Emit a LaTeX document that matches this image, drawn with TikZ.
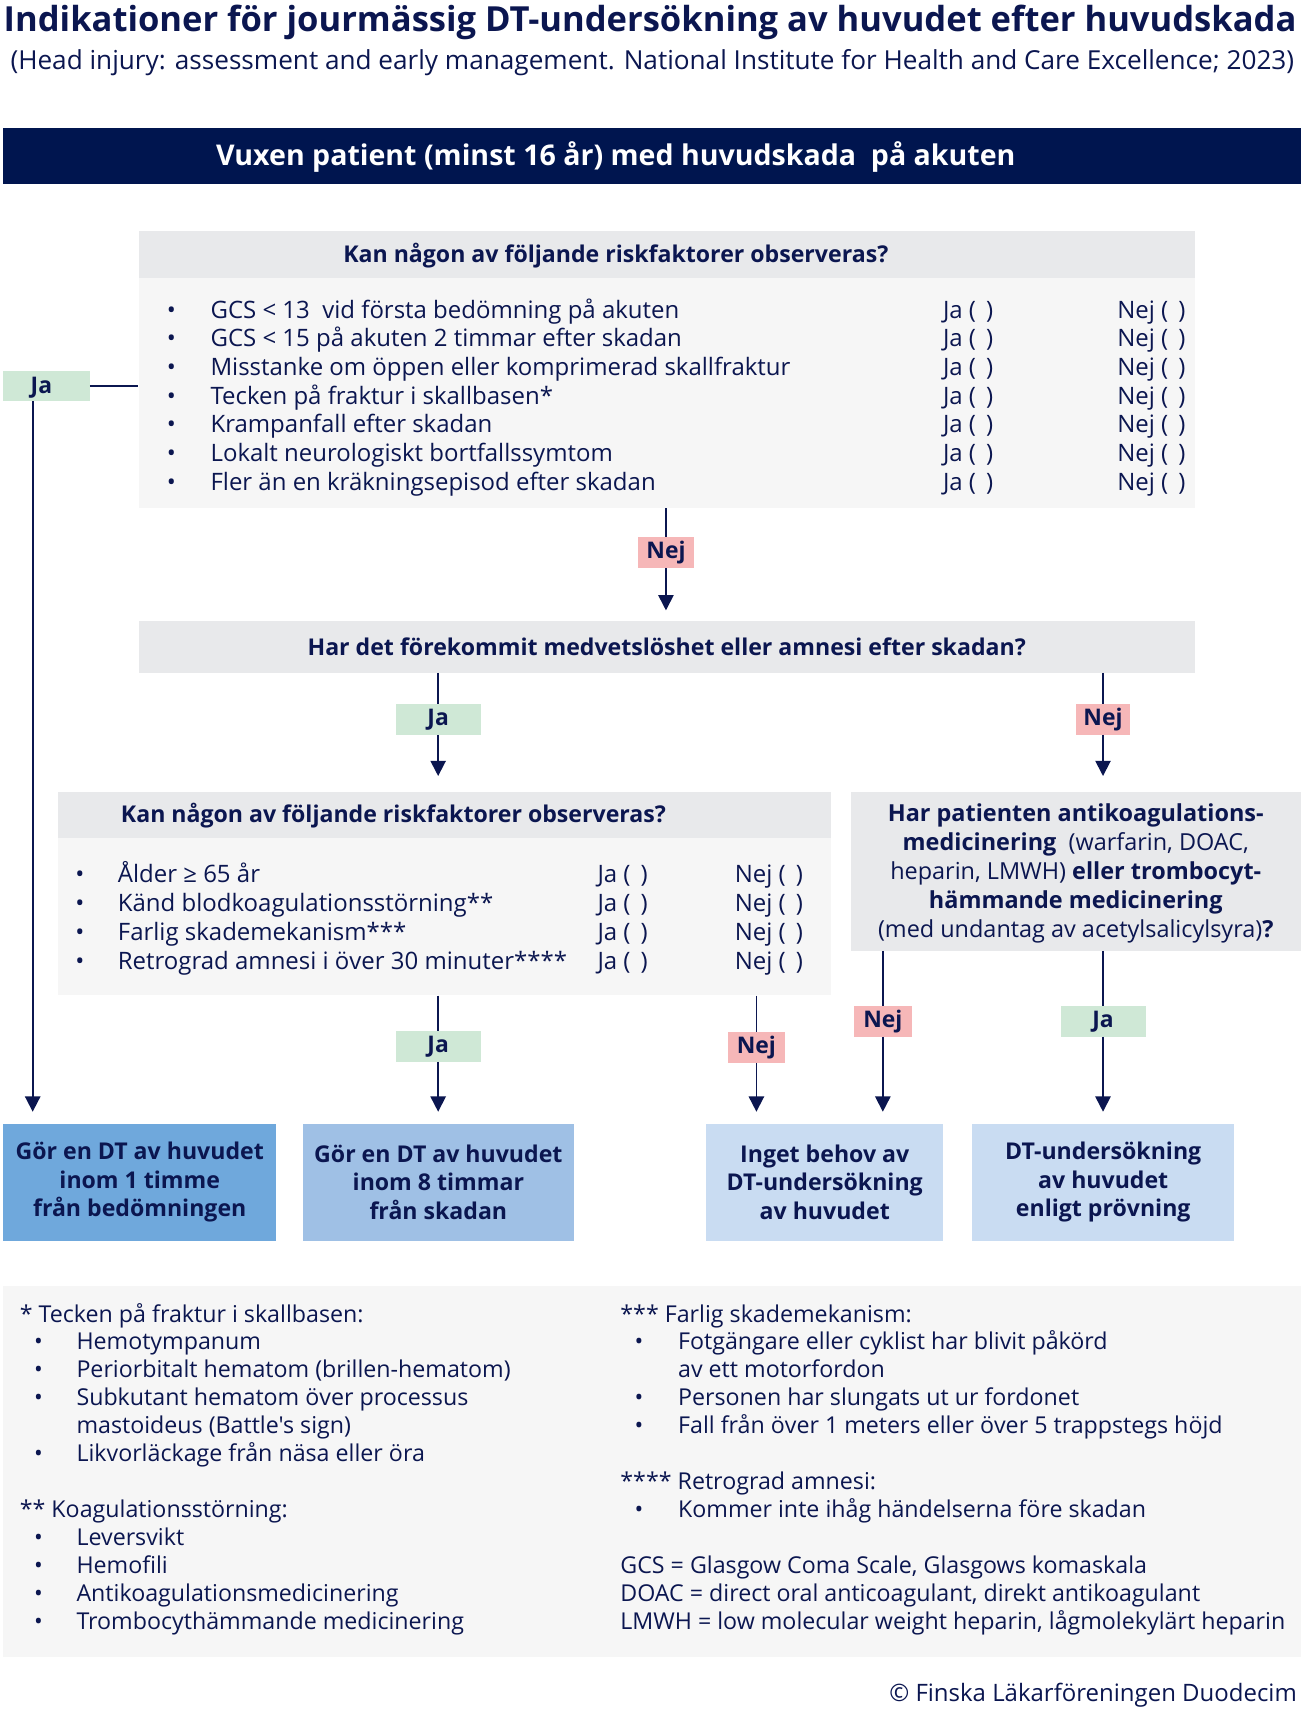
\documentclass[tikz,border=0pt]{standalone}
\usepackage{fontspec}
\setmainfont{Open Sans}[Ligatures=TeXOff]
\usetikzlibrary{arrows.meta}
\definecolor{navy}{HTML}{0B1650}
\definecolor{banner}{HTML}{00154F}
\definecolor{hdrgray}{HTML}{E8E9EB}
\definecolor{bodygray}{HTML}{F6F6F6}
\definecolor{jagreen}{HTML}{CFE8D6}
\definecolor{nejpink}{HTML}{F6B7B8}
\definecolor{outa}{HTML}{6FA8DC}
\definecolor{outb}{HTML}{9FC0E5}
\definecolor{outc}{HTML}{C9DCF2}
\newcommand{\bodyfont}{\fontsize{22}{26}\selectfont}
\newcommand{\fnfont}{\fontsize{21.3}{25}\selectfont}
\newcommand{\hdrfont}{\bfseries\fontsize{21.2}{25}\selectfont}
\newcommand{\jabox}{Ja (\hspace{0.42em})}
\newcommand{\nejbox}{Nej (\hspace{0.42em})}
\begin{document}
\begin{tikzpicture}[x=1pt,y=-1pt,
  line/.style={draw=navy, line width=1.6pt},
  arr/.style={line, -{Triangle[width=14pt,length=14pt]}},
  panel/.style={inner sep=0pt, anchor=north west},
  txt/.style={text=navy, inner sep=0pt, anchor=base west, font=\bodyfont},
  fnt/.style={text=navy, inner sep=0pt, anchor=base west, font=\fnfont},
  lab/.style={inner sep=0pt, minimum height=28pt, text=navy, font=\bfseries\fontsize{21}{24}\selectfont},
  jal/.style={lab, fill=jagreen, minimum width=78pt},
  nejl/.style={lab, fill=nejpink, minimum width=52pt},
  outbox/.style={panel, text=navy, align=center, minimum height=107pt, font=\bfseries\fontsize{21.2}{26}\selectfont}
]
\useasboundingbox[fill=white] (0,0) rectangle (1193,1568);

% title
\node[text=navy, inner sep=0pt, anchor=base, font=\bfseries\fontsize{31.7}{36}\selectfont] (title) at (596.5,29) {Indikationer för jourmässig DT-undersökning av huvudet efter huvudskada};
\node[text=navy, inner sep=0pt, anchor=base, font=\fontsize{24}{28}\selectfont] (subtitle) at (598.5,64) {(Head injury: assessment and early management. National Institute for Health and Care Excellence; 2023)};

% banner
\node[panel, fill=banner, minimum width=1190pt, minimum height=52pt] (banner) at (3,117) {};
\node[text=white, inner sep=0pt, anchor=base, font=\bfseries\fontsize{26.2}{30}\selectfont] (bannertxt) at (565,152) {Vuxen patient (minst 16 år) med huvudskada\ \ på akuten};

% box A
\node[panel, fill=hdrgray, minimum width=969pt, minimum height=43pt] (ahdr) at (127,212) {};
\node[panel, fill=bodygray, minimum width=969pt, minimum height=211pt] (abody) at (127,255) {};
\node[text=navy, inner sep=0pt, anchor=base, font=\hdrfont] (ahdrtxt) at (565,241) {Kan någon av följande riskfaktorer observeras?};
\foreach \t [count=\i] in {GCS < 13\ \ vid första bedömning på akuten, GCS < 15 på akuten 2 timmar efter skadan, Misstanke om öppen eller komprimerad skallfraktur, Tecken på fraktur i skallbasen*, Krampanfall efter skadan, Lokalt neurologiskt bortfallssymtom, Fler än en kräkningsepisod efter skadan}{
  \node[txt] (ab\i) at (153,{292+(\i-1)*26.3}) {•};
  \node[txt] (at\i) at (193,{292+(\i-1)*26.3}) {\t};
  \node[txt] (aj\i) at (865,{292+(\i-1)*26.3}) {\jabox};
  \node[txt] (an\i) at (1025,{292+(\i-1)*26.3}) {\nejbox};
}

% left Ja
\node[panel, fill=jagreen, minimum width=79pt, minimum height=28pt] (jaL) at (3,340) {};
\node[txt, anchor=base, font=\bfseries\fontsize{21}{24}\selectfont] (jaLt) at (38,361) {Ja};
\coordinate (jaLx) at (30,368);

% Nej below A
\node[nejl] (nejA) at (611,507) {Nej};

% box B
\node[panel, fill=hdrgray, minimum width=969pt, minimum height=47pt, text=navy, font=\hdrfont] (bq) at (127,570) {Har det förekommit medvetslöshet eller amnesi efter skadan?};

\node[jal] (jaB) at (402,660) {Ja};
\node[nejl, minimum width=50pt] (nejB) at (1012,660) {Nej};

% box C
\node[panel, fill=hdrgray, minimum width=709pt, minimum height=43pt] (chdr) at (53,726) {};
\node[panel, fill=bodygray, minimum width=709pt, minimum height=144pt] (cbody) at (53,769) {};
\node[text=navy, inner sep=0pt, anchor=base, font=\hdrfont] (chdrtxt) at (361,755) {Kan någon av följande riskfaktorer observeras?};
\foreach \t [count=\i] in {Ålder ≥ 65 år, Känd blodkoagulationsstörning**, Farlig skademekanism***, Retrograd amnesi i över 30 minuter****}{
  \node[txt] (cb\i) at (69,{810+(\i-1)*26.4}) {•};
  \node[txt] (ct\i) at (108,{810+(\i-1)*26.4}) {\t};
  \node[txt] (cj\i) at (548,{810+(\i-1)*26.4}) {\jabox};
  \node[txt] (cn\i) at (674,{810+(\i-1)*26.4}) {\nejbox};
}

% box D
\node[panel, fill=hdrgray, minimum width=412pt, minimum height=146pt] (dq) at (781,726) {};
\node[text=navy, inner sep=0pt, align=center, font=\fontsize{21.5}{26.5}\selectfont] (dqtxt) at (987,801.5) {{\bfseries Har patienten antikoagulations-}\\{\bfseries medicinering}\ \ (warfarin, DOAC,\\heparin, LMWH) {\bfseries eller trombocyt-}\\{\bfseries hämmande medicinering}\\(med undantag av acetylsalicylsyra){\bfseries ?}};

\node[jal] (jaC) at (402,960) {Ja};
\node[nejl] (nejC) at (694,961) {Nej};
\node[nejl, minimum width=53pt] (nejD) at (810,937) {Nej};
\node[jal] (jaD) at (1012,937) {Ja};

% outcome boxes
\node[outbox, fill=outa, minimum width=250pt] (o1) at (3,1031) {Gör en DT av huvudet\\inom 1 timme\\från bedömningen};
\node[outbox, fill=outb, minimum width=248pt] (o2) at (278,1031) {Gör en DT av huvudet\\inom 8 timmar\\från skadan};
\node[outbox, fill=outc, minimum width=217pt] (o3) at (648,1031) {Inget behov av\\DT-undersökning\\av huvudet};
\node[outbox, fill=outc, minimum width=240pt] (o4) at (892,1031) {DT-undersökning\\av huvudet\\enligt prövning};

% connectors
\draw[line] (jaL.east) -- (abody.west |- jaL.east);
\draw[arr, shorten >=11pt] (jaLx) -- (jaLx |- o1.north);
\draw[line] (abody.south -| nejA) -- (nejA.north);
\draw[arr, shorten >=10pt] (nejA.south) -- (bq.north -| nejA);
\draw[line] (bq.south -| jaB) -- (jaB.north);
\draw[arr, shorten >=14pt] (jaB.south) -- (chdr.north -| jaB);
\draw[line] (bq.south -| nejB) -- (nejB.north);
\draw[arr, shorten >=14pt] (nejB.south) -- (dq.north -| nejB);
\draw[line] (cbody.south -| jaC) -- (jaC.north);
\draw[arr, shorten >=11pt] (jaC.south) -- (o2.north -| jaC);
\draw[line] (cbody.south -| nejC) -- (nejC.north);
\draw[arr, shorten >=11pt] (nejC.south) -- (o3.north -| nejC);
\draw[line] (dq.south -| nejD) -- (nejD.north);
\draw[arr, shorten >=11pt] (nejD.south) -- (o3.north -| nejD);
\draw[line] (dq.south -| jaD) -- (jaD.north);
\draw[arr, shorten >=11pt] (jaD.south) -- (o4.north -| jaD);

% footnotes
\node[panel, fill=bodygray, minimum width=1190pt, minimum height=340pt] (fn) at (3,1180) {};
\node[fnt] (fl0) at (18,1213) {* Tecken på fraktur i skallbasen:};
\node[fnt] (flb1) at (31,{1213+1*25.6}) {•};
\node[fnt] (fl1) at (70,{1213+1*25.6}) {Hemotympanum};
\node[fnt] (flb2) at (31,{1213+2*25.6}) {•};
\node[fnt] (fl2) at (70,{1213+2*25.6}) {Periorbitalt hematom (brillen-hematom)};
\node[fnt] (flb3) at (31,{1213+3*25.6}) {•};
\node[fnt] (fl3) at (70,{1213+3*25.6}) {Subkutant hematom över processus};
\node[fnt] (fl4) at (70,{1213+4*25.6}) {mastoideus (Battle's sign)};
\node[fnt] (flb5) at (31,{1213+5*25.6}) {•};
\node[fnt] (fl5) at (70,{1213+5*25.6}) {Likvorläckage från näsa eller öra};
\node[fnt] (fl7) at (18,{1213+7*25.6}) {** Koagulationsstörning:};
\node[fnt] (flb8) at (31,{1213+8*25.6}) {•};
\node[fnt] (fl8) at (70,{1213+8*25.6}) {Leversvikt};
\node[fnt] (flb9) at (31,{1213+9*25.6}) {•};
\node[fnt] (fl9) at (70,{1213+9*25.6}) {Hemofili};
\node[fnt] (flb10) at (31,{1213+10*25.6}) {•};
\node[fnt] (fl10) at (70,{1213+10*25.6}) {Antikoagulationsmedicinering};
\node[fnt] (flb11) at (31,{1213+11*25.6}) {•};
\node[fnt] (fl11) at (70,{1213+11*25.6}) {Trombocythämmande medicinering};

\node[fnt] (fr0) at (569,1213) {*** Farlig skademekanism:};
\node[fnt] (frb1) at (582,{1213+1*25.6}) {•};
\node[fnt] (fr1) at (622,{1213+1*25.6}) {Fotgängare eller cyklist har blivit påkörd};
\node[fnt] (fr2) at (622,{1213+2*25.6}) {av ett motorfordon};
\node[fnt] (frb3) at (582,{1213+3*25.6}) {•};
\node[fnt] (fr3) at (622,{1213+3*25.6}) {Personen har slungats ut ur fordonet};
\node[fnt] (frb4) at (582,{1213+4*25.6}) {•};
\node[fnt] (fr4) at (622,{1213+4*25.6}) {Fall från över 1 meters eller över 5 trappstegs höjd};
\node[fnt] (fr6) at (569,{1213+6*25.6}) {**** Retrograd amnesi:};
\node[fnt] (frb7) at (582,{1213+7*25.6}) {•};
\node[fnt] (fr7) at (622,{1213+7*25.6}) {Kommer inte ihåg händelserna före skadan};
\node[fnt] (fr9) at (569,{1213+9*25.6}) {GCS = Glasgow Coma Scale, Glasgows komaskala};
\node[fnt] (fr10) at (569,{1213+10*25.6}) {DOAC = direct oral anticoagulant, direkt antikoagulant};
\node[fnt] (fr11) at (569,{1213+11*25.6}) {LMWH = low molecular weight heparin, lågmolekylärt heparin};

\node[fnt, anchor=base east, font=\fontsize{22}{26}\selectfont] (footer) at (1190,1561) {© Finska Läkarföreningen Duodecim};
\end{tikzpicture}
\end{document}
